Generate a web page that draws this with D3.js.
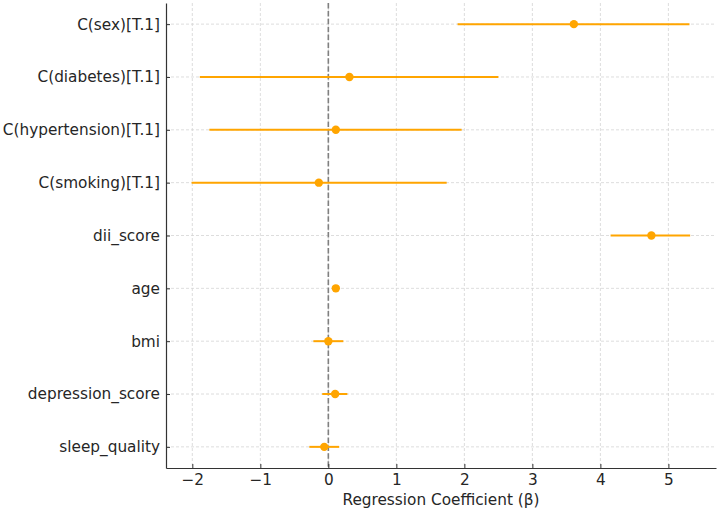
<!DOCTYPE html>
<html lang="en">
<head>
<meta charset="UTF-8">
<title>Regression coefficients</title>
<script src="https://d3js.org/d3.v7.min.js"></script>
<style>
    body, html { margin: 0; padding: 0; background: #fff; }
    svg { display: block; }
    text { font-family: "DejaVu Sans", sans-serif; fill: #262626; }
</style>
</head>
<body>
<svg id="chart" width="720" height="512"></svg>
<script>
// Coefficient estimates with 95% CI
const terms = ["C(sex)[T.1]", "C(diabetes)[T.1]", "C(hypertension)[T.1]", "C(smoking)[T.1]",
               "dii_score", "age", "bmi", "depression_score", "sleep_quality"];
const coef  = [3.61, 0.31, 0.11, -0.14, 4.75, 0.11, 0.00, 0.10, -0.06];
const lower = [1.90, -1.89, -1.75, -2.01, 4.15, 0.09, -0.22, -0.09, -0.28];
const upper = [5.31, 2.50, 1.96, 1.74, 5.32, 0.13, 0.22, 0.28, 0.16];
const xTicks = [-2, -1, 0, 1, 2, 3, 4, 5];

const svg = d3.select("#chart");
const plotLeft = 166, plotRight = 716, plotTop = 3, plotBottom = 468;
const fontSize = 15.3;

const x = d3.scaleLinear().domain([-2.387, 5.70]).range([plotLeft, plotRight]);
// categorical axis like matplotlib: index 0 on top, margins of 0.4
const y = d3.scaleLinear().domain([-0.4, terms.length - 1 + 0.4]).range([plotTop, plotBottom]);

const color = "#ffa500";

// grid
const grid = svg.append("g");
grid.selectAll("line.gx").data(xTicks).join("line")
    .attr("class", "gx")
    .attr("x1", d => x(d)).attr("x2", d => x(d))
    .attr("y1", plotTop).attr("y2", plotBottom)
    .attr("stroke", "#d4d4d4").attr("stroke-width", 0.8)
    .attr("stroke-dasharray", "3,2");
grid.selectAll("line.gy").data(terms).join("line")
    .attr("class", "gy")
    .attr("x1", plotLeft).attr("x2", plotRight)
    .attr("y1", (d, i) => y(i)).attr("y2", (d, i) => y(i))
    .attr("stroke", "#d4d4d4").attr("stroke-width", 0.8)
    .attr("stroke-dasharray", "3,2");

// zero reference
svg.append("line")
    .attr("x1", x(0)).attr("x2", x(0))
    .attr("y1", plotTop).attr("y2", plotBottom)
    .attr("stroke", "#808080").attr("stroke-width", 1.6)
    .attr("stroke-dasharray", "5.5,2.4");

// error bars + points
const marks = svg.append("g");
marks.selectAll("line.ci").data(terms).join("line")
    .attr("class", "ci")
    .attr("x1", (d, i) => x(lower[i])).attr("x2", (d, i) => x(upper[i]))
    .attr("y1", (d, i) => y(i)).attr("y2", (d, i) => y(i))
    .attr("stroke", color).attr("stroke-width", 2);
marks.selectAll("circle").data(terms).join("circle")
    .attr("cx", (d, i) => x(coef[i])).attr("cy", (d, i) => y(i))
    .attr("r", 4.2).attr("fill", color);

// axes
const xAxis = d3.axisBottom(x).tickValues(xTicks)
    .tickFormat(d => d < 0 ? "\u2212" + Math.abs(d) : d)
    .tickSizeInner(-4).tickSizeOuter(0).tickPadding(6);
const gx = svg.append("g").attr("transform", `translate(0,${plotBottom})`).call(xAxis);
gx.select(".domain").attr("stroke", "#333").attr("stroke-width", 1.2);
gx.selectAll(".tick line").attr("stroke", "#333");
gx.selectAll("text").attr("font-size", fontSize).attr("fill", "#262626");

const yAxis = d3.axisLeft(y).tickValues(d3.range(terms.length))
    .tickFormat(i => terms[i])
    .tickSizeInner(-4).tickSizeOuter(0).tickPadding(6);
const gy = svg.append("g").attr("transform", `translate(${plotLeft},0)`).call(yAxis);
gy.select(".domain").attr("stroke", "#333").attr("stroke-width", 1.2);
gy.selectAll(".tick line").attr("stroke", "#333");
gy.selectAll("text").attr("font-size", fontSize).attr("fill", "#262626");

svg.append("text")
    .attr("x", (plotLeft + plotRight) / 2).attr("y", 505)
    .attr("text-anchor", "middle").attr("font-size", fontSize)
    .text("Regression Coefficient (\u03b2)");
</script>
</body>
</html>
